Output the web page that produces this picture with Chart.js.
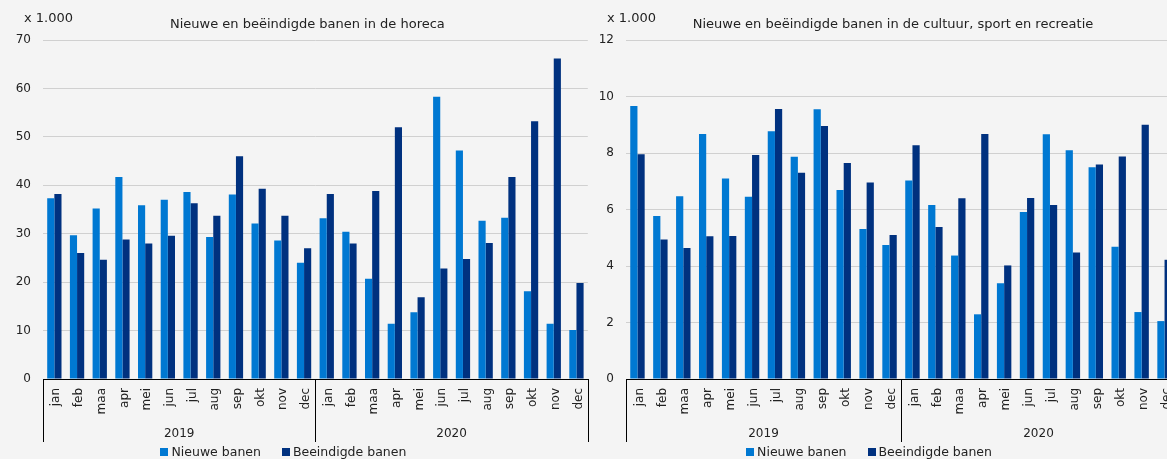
<!DOCTYPE html>
<html>
<head>
<meta charset="utf-8">
<script src="https://cdn.jsdelivr.net/npm/chart.js@4"></script>
<style>
    html, body { margin: 0; padding: 0; background: #f4f4f4; overflow: hidden; }
    body { width: 1167px; height: 459px; position: relative; }
    .box { position: absolute; top: 0; height: 459px; }
    #horeca-box { left: 0; width: 600px; }
    #cultuur-box { left: 585px; width: 615px; }
</style>
</head>
<body>
<div class="box" id="horeca-box"><canvas id="horecaChart" width="600" height="459"></canvas></div>
<div class="box" id="cultuur-box"><canvas id="cultuurChart" width="615" height="459"></canvas></div>
<script>
// Tick labels
const months = ['jan', 'feb', 'maa', 'apr', 'mei', 'jun', 'jul', 'aug', 'sep', 'okt', 'nov', 'dec'];
const years = ['2019', '2020'];
const seriesNames = ['Nieuwe banen', 'Beeindigde banen'];

// Horeca, x 1.000 (jan 2019 .. dec 2020)
const horecaNew = [37.3, 29.7, 35.2, 41.7, 35.9, 37.0, 38.6, 29.3, 38.1, 32.1, 28.6, 24.0,
                   33.2, 30.4, 20.7, 11.4, 13.8, 58.3, 47.2, 32.7, 33.3, 18.1, 11.4, 10.1];
const horecaEnded = [38.2, 26.0, 24.6, 28.8, 28.0, 29.6, 36.3, 33.7, 46.0, 39.3, 33.7, 27.0,
                     38.2, 28.0, 38.8, 52.0, 16.9, 22.8, 24.8, 28.1, 41.7, 53.2, 66.2, 19.8];

// Cultuur, sport en recreatie, x 1.000
const cultuurNew = [9.66, 5.77, 6.47, 8.67, 7.10, 6.45, 8.77, 7.87, 9.55, 6.69, 5.31, 4.74,
                    7.03, 6.16, 4.37, 2.29, 3.39, 5.91, 8.66, 8.10, 7.50, 4.68, 2.37, 2.05];
const cultuurEnded = [7.96, 4.94, 4.64, 5.05, 5.06, 7.93, 9.56, 7.30, 8.96, 7.65, 6.96, 5.10,
                      8.27, 5.38, 6.40, 8.67, 4.02, 6.41, 6.16, 4.48, 7.59, 7.88, 9.00, 4.22];

const colors = ['#0078d2', '#00317f'];
const fontFamily = '"DejaVu Sans", Verdana, sans-serif';
const textColor = '#222';

// Years under the months, with separator lines, legend and titles
const extrasPlugin = {
    id: 'extras',
    afterDraw(chart, args, opts) {
        const ctx = chart.ctx;
        const x = chart.scales.x;
        const area = chart.chartArea;
        const n = months.length;
        ctx.save();

        // group separators
        ctx.strokeStyle = '#000';
        ctx.lineWidth = 1;
        const bounds = [x.left];
        years.forEach((y, i) => {
            const end = (i + 1) * n;
            bounds.push(end < x.ticks.length
                ? (x.getPixelForValue(end - 1) + x.getPixelForValue(end)) / 2
                : x.right);
        });
        bounds.forEach(b => {
            const px = Math.round(b) + 0.5;
            ctx.beginPath();
            ctx.moveTo(px, area.bottom);
            ctx.lineTo(px, 442);
            ctx.stroke();
        });

        // year labels
        ctx.fillStyle = textColor;
        ctx.font = '12px ' + fontFamily;
        ctx.textAlign = 'center';
        ctx.textBaseline = 'middle';
        years.forEach((y, i) => {
            ctx.fillText(y, (bounds[i] + bounds[i + 1]) / 2, 434);
        });

        const mid = (area.left + area.right) / 2;

        // title and unit
        ctx.font = '13px ' + fontFamily;
        ctx.fillText(opts.title, mid - 8, 25);
        ctx.textAlign = 'left';
        ctx.fillText('x 1.000', opts.unitX, 19);

        // legend
        ctx.font = '12.5px ' + fontFamily;
        const box = 8, gapText = 3, gapItem = 21;
        const widths = seriesNames.map(s => ctx.measureText(s).width);
        const total = widths.reduce((a, w) => a + box + gapText + w, 0) + gapItem;
        let lx = mid - 32 - total / 2;
        chart.data.datasets.forEach((ds, i) => {
            ctx.fillStyle = ds.backgroundColor;
            ctx.fillRect(Math.round(lx), 448, box, box);
            ctx.fillStyle = textColor;
            ctx.fillText(ds.label, lx + box + gapText, 452.5);
            lx += box + gapText + widths[i] + gapItem;
        });
        ctx.restore();
    }
};

function makeChart(id, newVals, endedVals, yMax, yStep, yWidth, padRight, title, unitX) {
    const labels = years.flatMap(() => months);
    const ctx = document.getElementById(id).getContext('2d');
    return new Chart(ctx, {
        type: 'bar',
        data: {
            labels: labels,
            datasets: [{
                label: seriesNames[0],
                data: newVals,
                backgroundColor: colors[0]
            }, {
                label: seriesNames[1],
                data: endedVals,
                backgroundColor: colors[1]
            }]
        },
        options: {
            responsive: false,
            animation: false,
            devicePixelRatio: 1,
            layout: { padding: { top: 40, right: padRight, left: 0, bottom: 0 } },
            datasets: {
                bar: { categoryPercentage: 0.63, barPercentage: 1.0 }
            },
            plugins: {
                legend: { display: false },
                title: { display: false },
                tooltip: { enabled: false },
                extras: { title: title, unitX: unitX }
            },
            scales: {
                x: {
                    grid: { display: false, drawTicks: false },
                    border: { display: true, color: '#000', width: 1 },
                    ticks: {
                        autoSkip: false,
                        minRotation: 90,
                        maxRotation: 90,
                        padding: 9,
                        labelOffset: 2,
                        color: textColor,
                        font: { family: fontFamily, size: 12 }
                    },
                    afterFit: s => { s.height = 80; }
                },
                y: {
                    min: 0,
                    max: yMax,
                    grid: { color: '#d0d0d0', lineWidth: 1, drawTicks: false },
                    border: { display: false },
                    ticks: {
                        stepSize: yStep,
                        padding: 12,
                        color: textColor,
                        font: { family: fontFamily, size: 12 }
                    },
                    afterFit: s => { s.width = yWidth; }
                }
            }
        },
        plugins: [extrasPlugin]
    });
}

makeChart('horecaChart', horecaNew, horecaEnded, 70, 10, 43, 7,
    'Nieuwe en beëindigde banen in de horeca', 24);
makeChart('cultuurChart', cultuurNew, cultuurEnded, 12, 2, 41, 24,
    'Nieuwe en beëindigde banen in de cultuur, sport en recreatie', 22);
</script>
</body>
</html>
